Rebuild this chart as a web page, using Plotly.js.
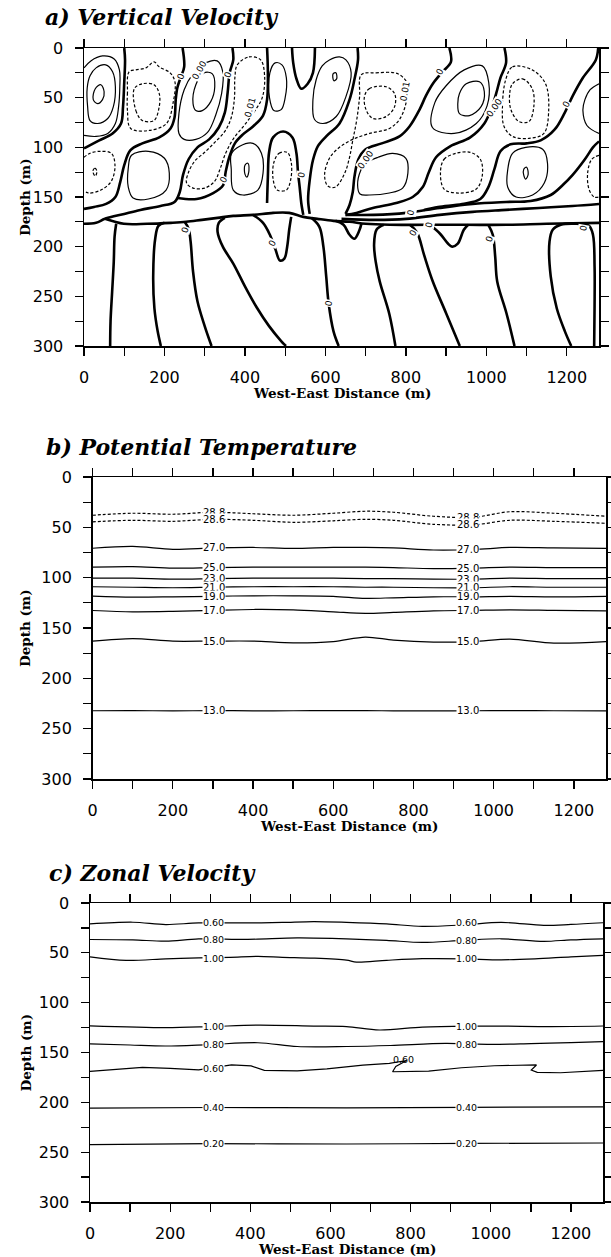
<!DOCTYPE html>
<html><head><meta charset="utf-8">
<script src="https://cdn.plot.ly/plotly-3.0.1.min.js"></script>
<style>html,body{margin:0;padding:0;background:#fff;}#chart{width:611px;height:1257px;}</style>
</head><body><div id="chart"></div>
<script>
// ================= DATA =================
// axis ticks
const xTickVals = [0,100,200,300,400,500,600,700,800,900,1000,1100,1200];
const xTickText = ['0','','200','','400','','600','','800','','1000','','1200'];
const yTickVals = [0,25,50,75,100,125,150,175,200,225,250,275,300];
const yTickText = ['0','','50','','100','','150','','200','','250','','300'];

// ---- panel a: vertical velocity, contour paths [x (m), depth (m)] ----
// zero contours (thick)
const z1 = [[100,0],[102,12],[100,35],[97,59],[92,76],[71,86],[38,93],[5,100],[0,101]];
const z2 = [[245,0],[249,19],[240,30],[232,40],[228,52],[225,70],[215,81],[187,90],[145,96],[115,103],[100,118],[90,135],[78,150],[55,157],[25,160],[0,162]];
const z3 = [[369,0],[371,12],[362,25],[357,45],[350,65],[335,80],[311,92],[282,100],[260,112],[246,128],[238,145],[225,155],[190,159],[140,163],[100,167],[52,172],[30,176],[0,177]];
const z4 = [[455,0],[457,25],[455,52],[445,68],[420,79],[395,87],[375,96],[361,110],[352,125],[346,138],[321,146],[280,152],[232,151]];
const z5 = [[455,156],[457,130],[460,105],[470,90],[495,84],[518,90],[528,106],[532,126],[536,140],[540,156],[545,168]];
const zV = [[517,0],[520,15],[528,31],[540,41],[556,36],[569,25],[574,0]];
const z6 = [[680,0],[681,12],[672,32],[660,52],[635,76],[602,89],[581,99],[569,113],[561,133],[557,153],[561,167]];
const z7 = [[908,0],[912,14],[891,24],[867,36],[850,48],[834,62],[809,79],[784,89],[740,96],[700,102],[682,112],[672,130],[668,145],[660,158],[650,167]];
const z8 = [[1045,0],[1049,15],[1035,30],[1025,45],[1015,58],[995,76],[960,90],[910,99],[875,110],[857,125],[842,140],[817,150],[776,156],[718,161],[677,166],[650,168]];
const z9 = [[1278,0],[1272,12],[1240,30],[1215,48],[1195,65],[1170,82],[1135,93],[1100,96],[1060,97],[1035,104],[1020,122],[1005,140],[985,152],[940,157],[880,160],[845,163]];
const zc = [[650,168],[720,168],[801,166],[884,161],[966,157],[1049,155],[1110,154],[1160,148],[1190,138],[1214,128],[1245,112],[1265,100],[1280,94]];
const zd = [[640,172],[725,173],[801,172],[884,168],[966,165],[1049,163],[1131,161],[1214,159],[1280,157]];
const ze = [[52,172],[99,177],[157,177],[216,176],[254,175],[293,173],[332,171],[371,169],[420,168],[470,166],[510,166],[545,170],[580,172],[620,174],[660,175],[700,177],[760,178],[850,178],[950,178],[1050,178],[1150,177],[1280,176]];
const l1 = [[80,177],[76,190],[74,215],[70,245],[66,275],[65,300]];
const l2 = [[200,176],[185,179],[177,192],[172,230],[175,262],[183,285],[191,300]];
const l3 = [[250,175],[260,182],[265,195],[271,225],[282,255],[300,280],[317,300]];
const l4 = [[350,171],[335,176],[332,185],[345,200],[371,217],[400,240],[429,261],[460,280],[490,295],[502,300]];
const tg1 = [[420,168],[445,176],[462,188],[476,203],[487,214],[498,212],[505,200],[510,183],[515,170]];
const l5 = [[565,171],[585,180],[595,200],[602,230],[608,257],[620,285],[633,300]];
const tr1 = [[625,174],[645,178],[660,188],[672,192],[684,184],[690,176]];
const l6 = [[745,178],[727,183],[721,198],[725,215],[735,235],[759,268],[774,300]];
const l7 = [[810,178],[828,186],[845,208],[866,234],[900,267],[934,300]];
const tg2 = [[860,178],[885,187],[905,197],[915,200],[929,197],[944,183],[955,178]];
const l8 = [[1005,178],[1016,188],[1022,210],[1027,235],[1050,267],[1070,300]];
const l9 = [[1211,300],[1195,285],[1175,262],[1160,230],[1157,195],[1165,183],[1185,178],[1225,177],[1255,179],[1265,188],[1269,220],[1269,260],[1268,300]];
// positive contours (thin solid)
const pA1 = [[0,20],[17,13],[46,8],[75,11],[88,22],[89,39],[86,59],[78,76],[59,86],[30,89],[0,88]];
const pA2 = [[8,40],[15,28],[30,20],[54,17],[71,24],[78,39],[73,59],[59,71],[34,76],[15,73],[9,59],[8,40]];
const pA3 = [[23,52],[28,41],[42,37],[50,44],[46,52],[34,56],[23,52]];
const pC1 = [[236,86],[236,66],[249,42],[269,27],[302,15],[331,13],[345,24],[342,46],[327,68],[307,85],[278,92],[249,92],[236,86]];
const pC2 = [[271,56],[278,37],[298,25],[319,26],[325,39],[315,54],[294,63],[278,63],[271,56]];
const pU5 = [[462,25],[475,15],[492,17],[503,30],[500,50],[490,62],[472,63],[461,50],[462,25]];
const pU6 = [[577,32],[592,18],[610,12],[635,9],[651,12],[664,25],[651,49],[627,69],[594,76],[573,72],[569,52],[577,32]];
const pU6t = [[619,26],[626,25],[628,31],[621,33],[619,26]];
const pU8a = [[866,80],[872,55],[900,38],[945,22],[990,18],[1006,35],[1002,58],[975,76],[920,86],[866,80]];
const pU8b = [[933,46],[950,36],[983,34],[995,44],[987,59],[958,68],[933,66],[929,56],[933,46]];
const pU10 = [[1280,36],[1258,42],[1245,52],[1240,63],[1250,78],[1280,86]];
const pL2 = [[118,108],[160,104],[200,111],[212,126],[204,143],[160,152],[122,151],[110,140],[110,121],[118,108]];
const pL4 = [[366,107],[387,99],[420,96],[441,106],[445,126],[432,143],[395,148],[371,143],[366,122],[366,107]];
const pL4t = [[400,118],[407,116],[410,123],[405,130],[400,127],[400,118]];
const pL7 = [[680,138],[688,123],[700,116],[731,110],[767,106],[800,111],[805,126],[792,141],[759,146],[709,148],[686,147],[680,138]];
const pL9 = [[1053,123],[1065,106],[1098,100],[1140,102],[1152,116],[1144,136],[1115,148],[1074,150],[1053,140],[1053,123]];
const pL9t = [[1093,122],[1100,120],[1104,127],[1098,132],[1093,128],[1093,122]];
// negative contours (thin dashed)
const nB1 = [[112,24],[108,45],[108,63],[116,81],[162,83],[205,76],[222,54],[226,34],[214,25],[187,19],[174,14],[154,20],[129,22],[112,24]];
const nB2 = [[125,41],[129,63],[145,73],[174,73],[187,59],[187,46],[174,37],[145,36],[125,41]];
const nE1 = [[381,17],[410,9],[439,12],[449,29],[443,50],[425,63],[400,77],[372,91],[352,106],[338,122],[325,134],[300,141],[271,141],[255,136],[259,126],[275,114],[300,105],[325,95],[350,84],[366,70],[374,50],[375,30],[381,17]];
const nL1 = [[0,110],[15,106],[40,104],[68,106],[77,118],[68,134],[42,143],[12,146],[0,144]];
const nL1t = [[22,124],[27,121],[32,124],[28,129],[22,124]];
const nL5 = [[472,115],[485,106],[505,105],[515,115],[514,132],[503,143],[480,143],[470,132],[472,115]];
const nU7a = [[689,27],[726,25],[780,26],[805,37],[800,56],[784,72],[759,81],[710,86],[668,92],[635,100],[610,111],[598,128],[606,139],[625,140],[648,126],[660,110],[668,93],[678,72],[685,49],[689,27]];
const nU7b = [[697,49],[709,41],[751,39],[772,46],[772,59],[751,69],[718,71],[701,62],[697,49]];
const nL8 = [[886,125],[895,112],[925,106],[960,105],[985,112],[990,128],[975,142],[930,146],[895,142],[886,125]];
const nU9a = [[1048,32],[1065,19],[1114,22],[1147,36],[1155,62],[1143,86],[1106,91],[1065,89],[1044,79],[1040,59],[1048,32]];
const nU9b = [[1065,36],[1090,31],[1114,41],[1118,59],[1106,74],[1081,74],[1061,62],[1058,46],[1065,36]];
const nL10 = [[1280,108],[1262,112],[1252,125],[1255,142],[1268,150],[1280,150]];
// contour labels [text, x, depth, angle]
const aLabels = [['0',240,29,-70],['0',357,27,-70],['0.00',287,22,-60],['0.01',412,60,-75],['0',347,133,-60],
  ['0',541,128,-80],['0.01',797,44,-80],['0',884,24,-60],['0.00',700,113,-55],['0.00',1019,60,-55],
  ['0',1199,56,-60],['0',812,166,-80],['0',857,178,-80],['0',818,186,-60],['0',1007,192,-70],
  ['0',1241,181,-80],['0',468,196,-60],['0',609,257,-80],['0',251,183,-70]];

// ---- panel b: potential temperature ----
const bX = [0,100,200,300,400,500,600,680,750,850,950,1040,1150,1280];
const t288 = [38,36,37,35,36.5,38,36,34,35,39,40,34.5,36,39];
const t286 = [44.5,43,44,42,43,45,43.5,42,43,47,47.5,43,44,46];
const t270 = [70.8,69,71.8,70.5,70,71,70,70,70.5,72.5,72,70,70.5,71];
const t250 = [89.5,89,90.5,90,89.5,89.5,89.5,89.5,90,91,90.5,89.5,90,90];
const t230 = [100.5,100.5,101.5,101,100.5,100.5,100.5,101,101,101.5,101.5,100.5,101,101];
const t210 = [109,109.5,110,109.5,109,109,109,109.5,109.5,110,110,109,109.5,109.5];
const t190 = [118.3,119.3,119,118.5,118,118,118.5,120.5,120,119,119,118.5,119,118.5];
const t170 = [132.6,133.9,133.5,132.5,131.6,132,134,135.5,134.5,133,132.5,132,132.5,133];
const t150 = [163.1,160.5,163.1,163,163,164.8,163.5,159,162,164,163.5,161,165,163.5];
const t130 = [232.2,232,232.4,232,232.3,232.2,232,232.1,232.3,232.4,232.2,232,232.2,232.3];
const tempLevels = ['28.8','28.6','27.0','25.0','23.0','21.0','19.0','17.0','15.0','13.0'];
const tempDashed = [true,true,false,false,false,false,false,false,false,false];
const tempLabelX = [303, 937];

// ---- panel c: zonal velocity ----
const u060aX = [0,107,189,271,394,480,558,640,740,829,930,1026,1132,1200,1280];
const u060aY = [21,19.3,21.6,20,20,19.5,18.6,19.4,21,23.5,22,19.4,22.5,21.5,19.8];
const u080aX = [0,107,189,271,394,517,640,740,829,930,1026,1132,1200,1280];
const u080aY = [36.6,37,38.3,36,36.5,35,35.9,37.5,39.6,37.5,35.9,38.5,37,35.9];
const u100aX = [0,90,189,271,350,419,480,558,640,665,740,829,930,1026,1110,1200,1280];
const u100aY = [54,57.6,56,55,54.5,53.6,54.5,55.3,57.3,59.3,57.5,55.9,56,57,56,54,52.6];
const u100bX = [0,189,300,419,558,640,722,829,940,1026,1150,1280];
const u100bY = [123.2,125,124,122.5,123.5,124,127.4,124.5,123.5,123.5,124,123.4];
const u080bX = [0,100,189,300,419,517,640,750,887,1000,1100,1200,1280];
const u080bY = [141.3,142.5,143.5,142,140.2,144,144,143,140.8,141.8,141,140,139];
const u060bX = [0,131,200,271,353,402,435,517,591,681,747,790,763,755,845,927,1009,1100,1114,1101,1116,1174,1280];
const u060bY = [169,165,166,167.5,162.5,163.5,168,168.5,166.5,162.6,161,158,164,169.3,168.6,165.3,163.3,162,162.5,167.6,170,170.3,168];
const u040X = [0,300,640,940,1280];
const u040Y = [205.8,205.2,205.5,205,204.5];
const u020X = [0,300,640,940,1280];
const u020Y = [242.4,241.5,241.8,241.2,240.8];
const zonalLabels = [['0.60',307,20],['0.60',940,20],['0.80',307,37],['0.80',940,37.5],['1.00',307,56],['1.00',940,55.5],
  ['1.00',307,123.5],['1.00',940,124],['0.80',307,142],['0.80',940,142],['0.60',307,166],['0.40',307,205.3],['0.40',940,205],
  ['0.20',307,241.6],['0.20',940,241.2]];
const zonalOddLabel = ['0.60',782,157.5];

// ================= BUILD =================
const W = 611, H = 1257;
const px = v => v / W, py = v => 1 - v / H;
const traces = [];
function path(arr, xa, ya, width, dash, smooth) {
  traces.push({type:'scatter', mode:'lines', x: arr.map(p=>p[0]), y: arr.map(p=>p[1]), xaxis: xa, yaxis: ya,
    line:{color:'#000', width: width, dash: dash || 'solid', shape: smooth === 0 ? 'linear' : 'spline', smoothing: smooth === undefined ? 1 : smooth},
    hoverinfo:'skip', showlegend:false});
}
const zeroA = [z1,z2,z3,z4,z5,zV,z6,z7,z8,z9,zc,zd,ze,l1,l2,l3,l4,tg1,l5,tr1,l6,l7,tg2,l8,l9];
const posA = [pA1,pA2,pA3,pC1,pC2,pU5,pU6,pU6t,pU8a,pU8b,pU10,pL2,pL4,pL4t,pL7,pL9,pL9t];
const negA = [nB1,nB2,nE1,nL1,nL1t,nL5,nU7a,nU7b,nL8,nU9a,nU9b,nL10];
zeroA.forEach(a => path(a,'x','y',2.6));
posA.forEach(a => path(a,'x','y',1.2));
negA.forEach(a => path(a,'x','y',1.2,'3px,2px'));

const tempLines = [t288,t286,t270,t250,t230,t210,t190,t170,t150,t130];
tempLines.forEach((ys,i) => {
  traces.push({type:'scatter', mode:'lines', x: bX, y: ys, xaxis:'x2', yaxis:'y2',
    line:{color:'#000', width:1.2, dash: tempDashed[i] ? '3px,2px' : 'solid', shape:'spline', smoothing:0.9},
    hoverinfo:'skip', showlegend:false});
});
const zonalLines = [[u060aX,u060aY],[u080aX,u080aY],[u100aX,u100aY],[u100bX,u100bY],[u080bX,u080bY],[u040X,u040Y],[u020X,u020Y]];
zonalLines.forEach(([xs,ys]) => {
  traces.push({type:'scatter', mode:'lines', x: xs, y: ys, xaxis:'x3', yaxis:'y3',
    line:{color:'#000', width:1.2, shape:'spline', smoothing:0.9}, hoverinfo:'skip', showlegend:false});
});
traces.push({type:'scatter', mode:'lines', x: u060bX, y: u060bY, xaxis:'x3', yaxis:'y3',
  line:{color:'#000', width:1.2, shape:'linear'}, hoverinfo:'skip', showlegend:false});

function interp(xs, ys, x) {
  for (let i = 0; i < xs.length - 1; i++) {
    if (x >= xs[i] && x <= xs[i+1]) return ys[i] + (ys[i+1]-ys[i]) * (x - xs[i]) / (xs[i+1]-xs[i]);
  }
  return ys[ys.length-1];
}

const annotations = [];
const lblFont = {family:'DejaVu Sans', size:9, color:'#000'};
aLabels.forEach(([t,x,y,a]) => annotations.push({text:t, x:x, y:y, xref:'x', yref:'y', showarrow:false,
  textangle:a, font:lblFont, bgcolor:'#fff', borderpad:0}));
tempLevels.forEach((t,i) => tempLabelX.forEach(lx => annotations.push({text:t, x:lx, y:interp(bX, tempLines[i], lx),
  xref:'x2', yref:'y2', showarrow:false, font:{family:'DejaVu Sans', size:10, color:'#000'}, bgcolor:'#fff', borderpad:0})));
zonalLabels.forEach(([t,x,y]) => annotations.push({text:t, x:x, y:y, xref:'x3', yref:'y3', showarrow:false,
  font:{family:'DejaVu Sans', size:9.5, color:'#000'}, bgcolor:'#fff', borderpad:0}));
annotations.push({text:zonalOddLabel[0], x:zonalOddLabel[1], y:zonalOddLabel[2], xref:'x3', yref:'y3', showarrow:false,
  font:{family:'DejaVu Sans', size:9.5, color:'#000'}});

// panel geometry (pixels)
const panels = [
  {xl:84, xr:599, yt:48, yb:346, title:'a) Vertical Velocity', ty:17, tx:43},
  {xl:92.6, xr:606, yt:477, yb:779, title:'b) Potential Temperature', ty:447, tx:44},
  {xl:90, xr:603, yt:903, yb:1202, title:'c) Zonal Velocity', ty:873, tx:47}
];
const layout = {width:W, height:H, margin:{l:0,r:0,t:0,b:0}, paper_bgcolor:'#fff', plot_bgcolor:'#fff',
  showlegend:false, annotations: annotations};
panels.forEach((p,i) => {
  const s = i === 0 ? '' : String(i+1);
  const common = {showline:true, linecolor:'#000', linewidth:1.5, mirror:'allticks', ticks:'outside', ticklen:8,
    tickwidth:1.3, tickcolor:'#000', showgrid:false, zeroline:false, fixedrange:true,
    tickfont:{family:'DejaVu Sans', size:16, color:'#000'}, ticklabelstandoff:8};
  layout['xaxis'+s] = Object.assign({}, common, {domain:[px(p.xl), px(p.xr)], range:[0,1280], anchor:'y'+s,
    tickmode:'array', tickvals:xTickVals, ticktext:xTickText});
  layout['yaxis'+s] = Object.assign({}, common, {domain:[py(p.yb), py(p.yt)], range:[300,0], anchor:'x'+s,
    tickmode:'array', tickvals:yTickVals, ticktext:yTickText});
  annotations.push({text:p.title, xref:'paper', yref:'paper', x:px(p.tx), y:py(p.ty), xanchor:'left', yanchor:'middle',
    showarrow:false, font:{family:'DejaVu Serif', size:22, style:'italic', weight:700, color:'#000'}});
  annotations.push({text:'West-East Distance (m)', xref:'paper', yref:'paper', x:px((p.xl+p.xr)/2), y:py(p.yb+47),
    xanchor:'center', yanchor:'middle', showarrow:false, font:{family:'DejaVu Serif', size:13.5, weight:700, color:'#000'}});
  annotations.push({text:'Depth (m)', xref:'paper', yref:'paper', x:px(25), y:py((p.yt+p.yb)/2), textangle:-90,
    xanchor:'center', yanchor:'middle', showarrow:false, font:{family:'DejaVu Serif', size:13.5, weight:700, color:'#000'}});
});

Plotly.newPlot('chart', traces, layout, {staticPlot:true, displayModeBar:false});
</script></body></html>
